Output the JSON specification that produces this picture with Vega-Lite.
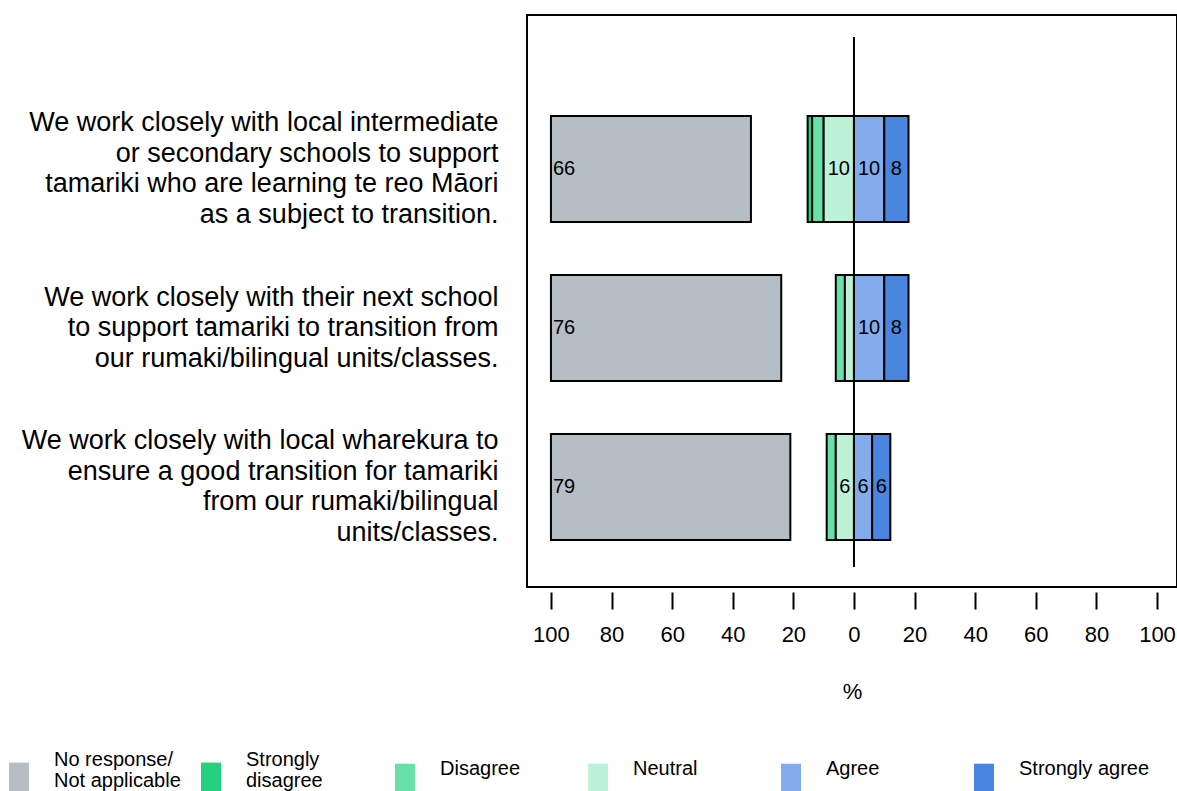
{
  "$schema": "https://vega.github.io/schema/vega-lite/v6.json",
  "width": 650,
  "height": 572,
  "autosize": {"type": "none"},
  "padding": {"left": 527, "top": 15, "right": 0, "bottom": 204},
  "background": "white",
  "config": {
    "font": "Liberation Sans",
    "view": {"stroke": "black", "strokeWidth": 2},
    "text": {"font": "Liberation Sans", "color": "black"},
    "style": {"guide-label": {"lineHeight": 20.5}}
  },
  "data": {
    "values": [
      {"question": "We work closely with local intermediate|or secondary schools to support|tamariki who are learning te reo Māori|as a subject to transition.", "qi": 1, "category": "No response/Not applicable", "level": 1, "value": 66},
      {"question": "We work closely with local intermediate|or secondary schools to support|tamariki who are learning te reo Māori|as a subject to transition.", "qi": 1, "category": "Strongly disagree", "level": 2, "value": 1.5},
      {"question": "We work closely with local intermediate|or secondary schools to support|tamariki who are learning te reo Māori|as a subject to transition.", "qi": 1, "category": "Disagree", "level": 3, "value": 3.8},
      {"question": "We work closely with local intermediate|or secondary schools to support|tamariki who are learning te reo Māori|as a subject to transition.", "qi": 1, "category": "Neutral", "level": 4, "value": 10},
      {"question": "We work closely with local intermediate|or secondary schools to support|tamariki who are learning te reo Māori|as a subject to transition.", "qi": 1, "category": "Agree", "level": 5, "value": 10},
      {"question": "We work closely with local intermediate|or secondary schools to support|tamariki who are learning te reo Māori|as a subject to transition.", "qi": 1, "category": "Strongly agree", "level": 6, "value": 8},
      {"question": "We work closely with their next school|to support tamariki to transition from|our rumaki/bilingual units/classes.", "qi": 2, "category": "No response/Not applicable", "level": 1, "value": 76},
      {"question": "We work closely with their next school|to support tamariki to transition from|our rumaki/bilingual units/classes.", "qi": 2, "category": "Strongly disagree", "level": 2, "value": 0},
      {"question": "We work closely with their next school|to support tamariki to transition from|our rumaki/bilingual units/classes.", "qi": 2, "category": "Disagree", "level": 3, "value": 3},
      {"question": "We work closely with their next school|to support tamariki to transition from|our rumaki/bilingual units/classes.", "qi": 2, "category": "Neutral", "level": 4, "value": 3},
      {"question": "We work closely with their next school|to support tamariki to transition from|our rumaki/bilingual units/classes.", "qi": 2, "category": "Agree", "level": 5, "value": 10},
      {"question": "We work closely with their next school|to support tamariki to transition from|our rumaki/bilingual units/classes.", "qi": 2, "category": "Strongly agree", "level": 6, "value": 8},
      {"question": "We work closely with local wharekura to|ensure a good transition for tamariki|from our rumaki/bilingual|units/classes.", "qi": 3, "category": "No response/Not applicable", "level": 1, "value": 79},
      {"question": "We work closely with local wharekura to|ensure a good transition for tamariki|from our rumaki/bilingual|units/classes.", "qi": 3, "category": "Strongly disagree", "level": 2, "value": 0},
      {"question": "We work closely with local wharekura to|ensure a good transition for tamariki|from our rumaki/bilingual|units/classes.", "qi": 3, "category": "Disagree", "level": 3, "value": 3},
      {"question": "We work closely with local wharekura to|ensure a good transition for tamariki|from our rumaki/bilingual|units/classes.", "qi": 3, "category": "Neutral", "level": 4, "value": 6},
      {"question": "We work closely with local wharekura to|ensure a good transition for tamariki|from our rumaki/bilingual|units/classes.", "qi": 3, "category": "Agree", "level": 5, "value": 6},
      {"question": "We work closely with local wharekura to|ensure a good transition for tamariki|from our rumaki/bilingual|units/classes.", "qi": 3, "category": "Strongly agree", "level": 6, "value": 6}
    ]
  },
  "layer": [
    {
      "encoding": {
        "y": {
          "field": "question",
          "type": "nominal",
          "scale": {
            "domain": [
              "We work closely with local intermediate|or secondary schools to support|tamariki who are learning te reo Māori|as a subject to transition.",
              "We work closely with their next school|to support tamariki to transition from|our rumaki/bilingual units/classes.",
              "We work closely with local wharekura to|ensure a good transition for tamariki|from our rumaki/bilingual|units/classes."
            ],
            "range": [74.5, 551.5],
            "paddingInner": 0.3333,
            "paddingOuter": 0.1667
          },
          "axis": {
            "title": null,
            "domain": false,
            "ticks": false,
            "tickSize": 0,
            "labelPadding": 29,
            "labelFontSize": 27,
            "labelFont": "Liberation Sans",
            "labelColor": "black",
            "labelLineHeight": 30.5,
            "labelLimit": 700,
            "labelAlign": "right",
            "labelBaseline": "middle",
            "labelExpr": "split(datum.label, '|')",
            "labelOffset": {"condition": {"test": "length(split(datum.value, '|')) == 4", "value": -45.75}, "value": -30.5}
          }
        }
      },
      "layer": [
        {
          "transform": [{"filter": "datum.level == 1"}],
          "mark": {"type": "bar", "stroke": "black", "strokeWidth": 2},
          "encoding": {
            "x": {"field": "value", "type": "quantitative", "scale": {"domain": [-7.9, 206.6], "nice": false, "zero": false}, "axis": null},
            "x2": {"datum": 0},
            "color": {
              "field": "category",
              "type": "nominal",
              "scale": {
                "domain": ["No response/Not applicable", "Strongly disagree", "Disagree", "Neutral", "Agree", "Strongly agree"],
                "range": ["#b4bec4", "#23d07d", "#6ae0a9", "#bdf1d8", "#84acec", "#4a86e0"]
              },
              "legend": {
                "values": ["No response/Not applicable", "Strongly disagree"],
                "orient": "none",
                "legendX": -528,
                "legendY": 725,
                "direction": "horizontal",
                "columns": 2,
                "gridAlign": "all",
                "columnPadding": 10,
                "padding": 0,
                "title": null,
                "symbolType": "M-0.5,0.13L0.5,0.13L0.5,1.6L-0.5,1.6Z",
                "symbolSize": 1600,
                "symbolStrokeWidth": 0,
                "labelFontSize": 20,
                "labelFont": "Liberation Sans",
                "labelColor": "black",
                "labelOffset": 15,
                "labelLimit": 300,
                "labelExpr": "datum.label == 'No response/Not applicable' ? ['No response/', 'Not applicable'] : ['Strongly', 'disagree']"
              }
            }
          }
        },
        {
          "transform": [{"filter": "datum.level == 1"}],
          "mark": {"type": "text", "align": "left", "baseline": "middle", "dx": 2, "fontSize": 20, "color": "black"},
          "encoding": {
            "x": {"datum": 0, "type": "quantitative", "scale": {"domain": [-7.9, 206.6], "nice": false, "zero": false}, "axis": null},
            "text": {"field": "value", "type": "quantitative", "format": ".0f"}
          }
        },
        {
          "transform": [{"filter": "datum.level >= 2 && datum.level <= 4 && datum.value > 0"}],
          "mark": {"type": "bar", "stroke": "black", "strokeWidth": 2},
          "encoding": {
            "x": {"field": "value", "type": "quantitative", "stack": "zero", "scale": {"domain": [-106.6, 107.9], "reverse": true, "nice": false, "zero": false}, "axis": null},
            "order": {"field": "level", "type": "quantitative", "sort": "descending"},
            "fill": {
              "field": "category",
              "type": "nominal",
              "scale": {
                "domain": ["Strongly agree", "Agree", "Neutral", "Disagree", "Strongly disagree", "No response/Not applicable"],
                "range": ["#4a86e0", "#84acec", "#bdf1d8", "#6ae0a9", "#23d07d", "#b4bec4"]
              },
              "legend": {
                "values": ["Disagree", "Neutral", "Agree", "Strongly agree"],
                "orient": "none",
                "legendX": -142,
                "legendY": 734,
                "direction": "horizontal",
                "columns": 4,
                "gridAlign": "all",
                "columnPadding": 7,
                "padding": 0,
                "title": null,
                "symbolType": "M-0.5,-0.265L0.5,-0.265L0.5,1.25L-0.5,1.25Z",
                "symbolSize": 1600,
                "symbolStrokeWidth": 0,
                "labelFontSize": 20,
                "labelFont": "Liberation Sans",
                "labelColor": "black",
                "labelOffset": 15,
                "labelLimit": 300
              }
            }
          }
        },
        {
          "transform": [{"filter": "datum.level >= 2 && datum.level <= 4 && datum.value > 0"}],
          "mark": {"type": "text", "align": "center", "baseline": "middle", "fontSize": 20, "color": "black"},
          "encoding": {
            "x": {"field": "value", "type": "quantitative", "stack": "zero", "bandPosition": 0.5, "scale": {"domain": [-106.6, 107.9], "reverse": true, "nice": false, "zero": false}, "axis": null},
            "order": {"field": "level", "type": "quantitative", "sort": "descending"},
            "text": {"condition": {"test": "datum.value >= 5", "field": "value", "type": "quantitative", "format": ".0f"}, "value": ""}
          }
        },
        {
          "transform": [{"filter": "datum.level >= 5"}],
          "mark": {"type": "bar", "stroke": "black", "strokeWidth": 2},
          "encoding": {
            "x": {
              "field": "value",
              "type": "quantitative",
              "stack": "zero",
              "scale": {"domain": [-107.9, 106.6], "nice": false, "zero": false},
              "axis": {
                "values": [-100, -80, -60, -40, -20, 0, 20, 40, 60, 80, 100],
                "labelExpr": "abs(datum.value)",
                "title": "%",
                "grid": false,
                "domain": false,
                "tickColor": "black",
                "tickWidth": 2,
                "tickSize": 17,
                "offset": 5,
                "labelFontSize": 22,
                "labelFont": "Liberation Sans",
                "labelColor": "black",
                "labelPadding": 15,
                "labelFlush": false,
                "labelOverlap": false,
                "titleFontSize": 22,
                "titleFont": "Liberation Sans",
                "titleFontWeight": "normal",
                "titleColor": "black",
                "titlePadding": 36
              }
            },
            "order": {"field": "level", "type": "quantitative", "sort": "ascending"},
            "fill": {
              "field": "category",
              "type": "nominal",
              "scale": {
                "domain": ["Strongly agree", "Agree", "Neutral", "Disagree", "Strongly disagree", "No response/Not applicable"],
                "range": ["#4a86e0", "#84acec", "#bdf1d8", "#6ae0a9", "#23d07d", "#b4bec4"]
              },
              "legend": null
            }
          }
        },
        {
          "transform": [{"filter": "datum.level >= 5"}],
          "mark": {"type": "text", "align": "center", "baseline": "middle", "fontSize": 20, "color": "black"},
          "encoding": {
            "x": {"field": "value", "type": "quantitative", "stack": "zero", "bandPosition": 0.5, "scale": {"domain": [-107.9, 106.6], "nice": false, "zero": false}, "axis": null},
            "order": {"field": "level", "type": "quantitative", "sort": "ascending"},
            "text": {"condition": {"test": "datum.value >= 5", "field": "value", "type": "quantitative", "format": ".0f"}, "value": ""}
          }
        }
      ],
      "resolve": {"scale": {"x": "independent"}}
    },
    {
      "transform": [{"filter": "datum.qi == 1 && datum.level == 1"}],
      "mark": {"type": "rule", "color": "black", "strokeWidth": 2},
      "encoding": {
        "x": {"datum": 0, "type": "quantitative", "scale": {"domain": [-107.9, 106.6], "nice": false, "zero": false}, "axis": null},
        "y": {"datum": 0.035, "type": "quantitative", "scale": {"domain": [0, 1], "nice": false, "zero": false}, "axis": null},
        "y2": {"datum": 0.9615}
      }
    }
  ],
  "resolve": {"scale": {"x": "independent", "y": "independent"}}
}
